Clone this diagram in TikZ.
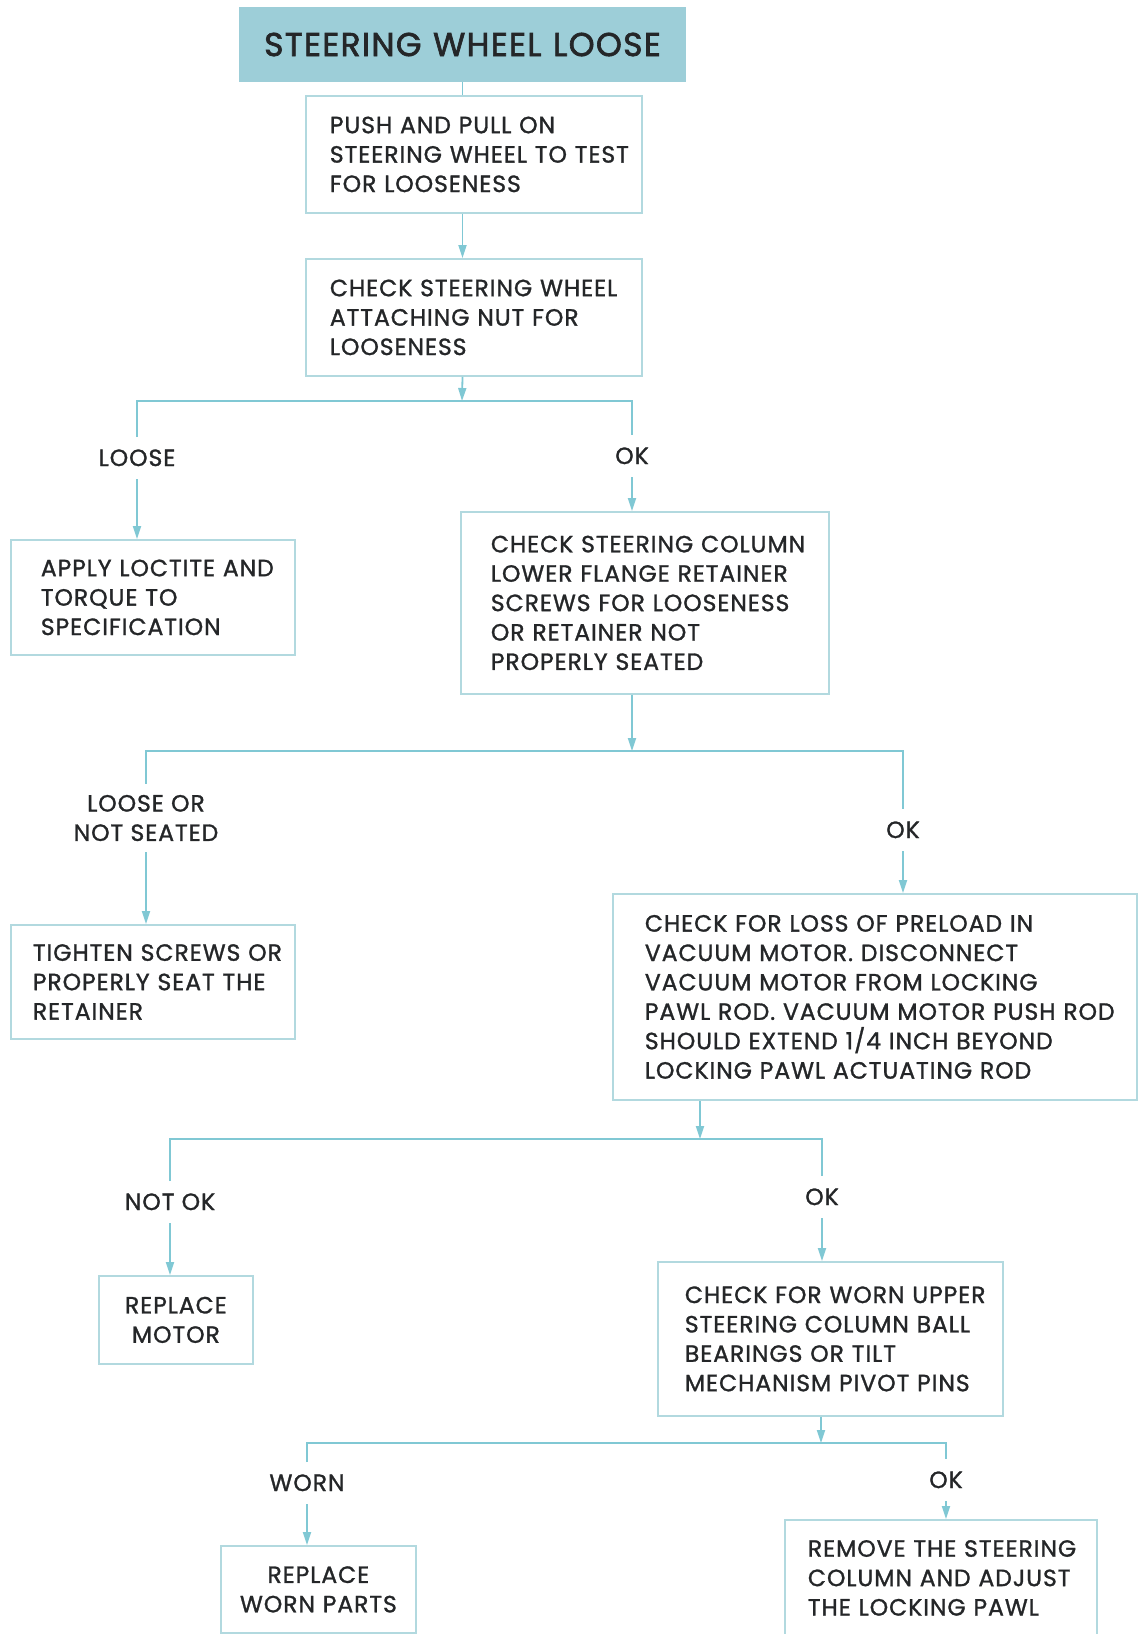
\documentclass[tikz,border=0pt]{standalone}
\usepackage{fontspec}
\setmainfont{Poppins}[LetterSpace=4,FakeBold=1.2]
\usetikzlibrary{arrows.meta}
\definecolor{titlefill}{RGB}{157,206,216}
\definecolor{wire}{RGB}{128,200,212}
\definecolor{boxedge}{RGB}{178,217,223}
\definecolor{ink}{RGB}{36,38,40}
\begin{document}
\begin{tikzpicture}[x=1pt,y=-1pt,
  every node/.style={text=ink},
  body/.style={font=\fontsize{23.5}{29.4}\selectfont},
  % framed step: width, height, left padding of the text
  stepbox/.style n args={3}{body, draw=boxedge, line width=1.8pt, fill=white,
    anchor=north west, align=left, inner sep=0pt,
    text width=#1pt, minimum width=#1pt, minimum height=#2pt,
    execute at begin node={\leftskip=#3pt\relax}},
  cstepbox/.style 2 args={body, draw=boxedge, line width=1.8pt, fill=white,
    anchor=north west, align=center, inner sep=0pt,
    text width=#1pt, minimum width=#1pt, minimum height=#2pt},
  tag/.style={body, inner sep=0pt, text height=16pt, text depth=0pt, outer ysep=13pt},
  tagtwo/.style={body, inner sep=0pt, align=center, outer ysep=11pt},
  link/.style={draw=wire, line width=1.8pt},
  tip/.style={-{Triangle[length=13pt,width=8pt]}}
]
\useasboundingbox (0,0) rectangle (1140,1634);

% heading
\node[fill=titlefill, minimum width=447pt, minimum height=75pt, inner sep=0pt,
      font=\fontsize{33}{38}\selectfont\addfontfeatures{FakeBold=2}] (title) at (462.5,44.5)
  {STEERING\hspace{0.35em}WHEEL\hspace{0.35em}LOOSE};

% steps
\node[stepbox={336}{117}{24}] (b1) at (305,95)
  {PUSH AND PULL ON\\STEERING WHEEL TO TEST\\FOR LOOSENESS};
\node[stepbox={336}{117}{24}] (b2) at (305,258)
  {CHECK STEERING WHEEL\\ATTACHING NUT FOR\\LOOSENESS};
\node[stepbox={284}{115}{30}] (b3) at (10,539)
  {APPLY LOCTITE AND\\TORQUE TO\\SPECIFICATION};
\node[stepbox={368}{182}{30}] (b4) at (460,511)
  {CHECK STEERING COLUMN\\LOWER FLANGE RETAINER\\SCREWS FOR LOOSENESS\\OR RETAINER NOT\\PROPERLY SEATED};
\node[stepbox={284}{114}{22}] (b5) at (10,924)
  {TIGHTEN SCREWS OR\\PROPERLY SEAT THE\\RETAINER};
\node[stepbox={524}{206}{32}] (b6) at (612,893)
  {CHECK FOR LOSS OF PRELOAD IN\\VACUUM MOTOR. DISCONNECT\\VACUUM MOTOR FROM LOCKING\\PAWL ROD. VACUUM MOTOR PUSH ROD\\SHOULD EXTEND 1/4 INCH BEYOND\\LOCKING PAWL ACTUATING ROD};
\node[cstepbox={154}{88}] (b7) at (98,1275)
  {REPLACE\\MOTOR};
\node[stepbox={345}{154}{27}] (b8) at (657,1261)
  {CHECK FOR WORN UPPER\\STEERING COLUMN BALL\\BEARINGS OR TILT\\MECHANISM PIVOT PINS};
\node[cstepbox={195}{87}] (b9) at (220,1545)
  {REPLACE\\WORN PARTS};
\node[stepbox={312}{116}{23}] (b10) at (784,1519)
  {REMOVE THE STEERING\\COLUMN AND ADJUST\\THE LOCKING PAWL};

% branch labels
\node[tag] (l1a) at (137,458) {LOOSE};
\node[tag] (l1b) at (632,456) {OK};
\node[tagtwo] (l2a) at (146,818) {LOOSE OR\\NOT SEATED};
\node[tag] (l2b) at (903,830) {OK};
\node[tag] (l3a) at (170,1202) {NOT OK};
\node[tag] (l3b) at (822,1197) {OK};
\node[tag] (l4a) at (307,1483) {WORN};
\node[tag] (l4b) at (946,1480) {OK};

% junctions on the branch bars
\coordinate (j1) at (462,401);
\coordinate (j2) at (632,751);
\coordinate (j3) at (700,1139);
\coordinate (j4) at (821,1443);

% trunk
\draw[link] (title.south) -- (title.south |- b1.north);
\draw[link,tip] (title.south |- b1.south) -- (title.south |- b2.north);

% first split
\draw[link,tip] (title.south |- b2.south) -- (j1);
\draw[link] (l1a.north) |- (j1) -| (l1b.north);
\draw[link,tip] (l1a.south) -- (l1a.south |- b3.north);
\draw[link,tip] (l1b.south) -- (l1b.south |- b4.north);

% second split
\draw[link,tip] (j2 |- b4.south) -- (j2);
\draw[link] (l2a.north) |- (j2) -| (l2b.north);
\draw[link,tip] (l2a.south) -- (l2a.south |- b5.north);
\draw[link,tip] (l2b.south) -- (l2b.south |- b6.north);

% third split
\draw[link,tip] (j3 |- b6.south) -- (j3);
\draw[link] (l3a.north) |- (j3) -| (l3b.north);
\draw[link,tip] (l3a.south) -- (l3a.south |- b7.north);
\draw[link,tip] (l3b.south) -- (l3b.south |- b8.north);

% fourth split
\draw[link,tip] (j4 |- b8.south) -- (j4);
\draw[link] (l4a.north) |- (j4) -| (l4b.north);
\draw[link,tip] (l4a.south) -- (l4a.south |- b9.north);
\draw[link,tip] (l4b.south) -- (l4b.south |- b10.north);
\end{tikzpicture}
\end{document}
